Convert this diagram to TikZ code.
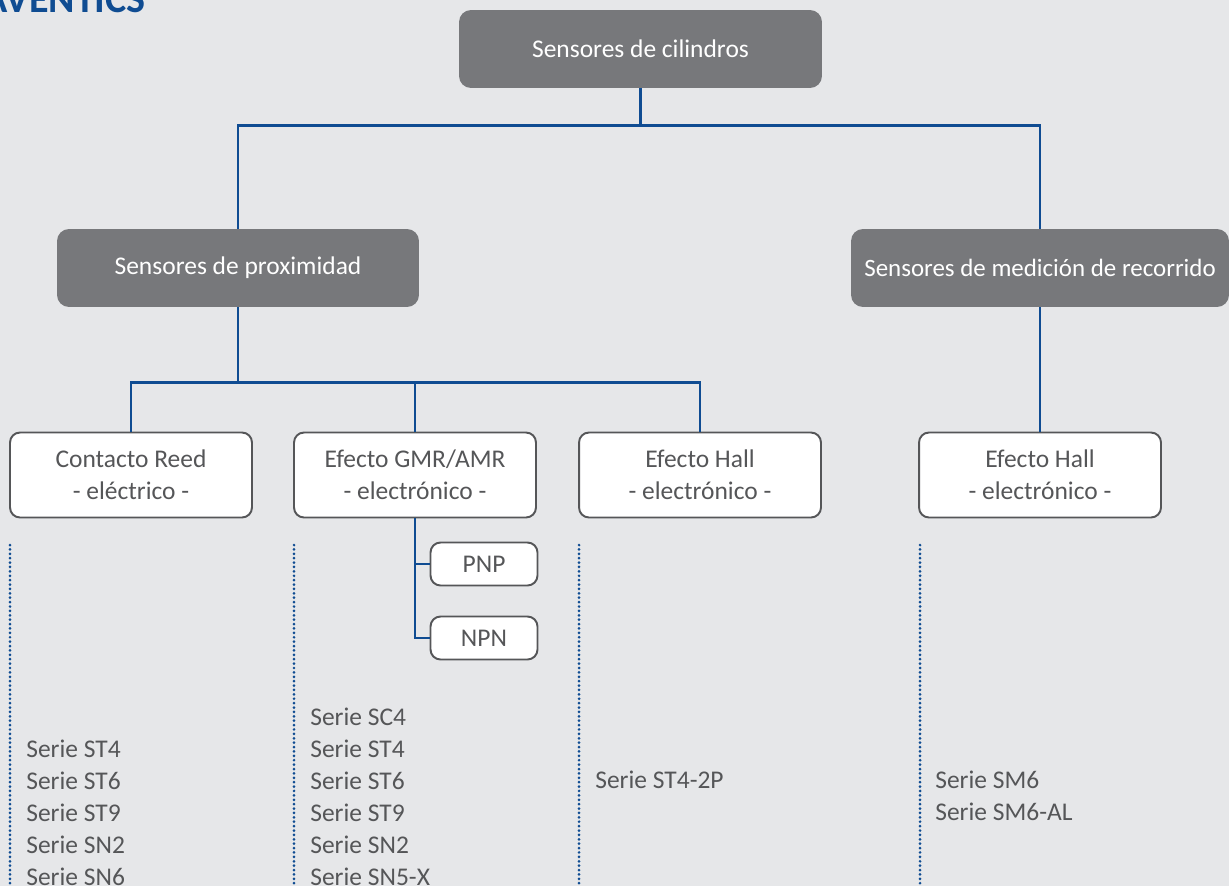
\documentclass[tikz,border=0pt]{standalone}
\usepackage{fontspec}
\setmainfont{Carlito}
\usepackage{xcolor}
\definecolor{bgrey}{HTML}{E6E7E9}
\definecolor{dgrey}{HTML}{77787B}
\definecolor{tgrey}{HTML}{555658}
\definecolor{lblue}{HTML}{0F4C92}
\tikzset{dark/.style={fill=dgrey,text=white,rounded corners=0.24cm,
   minimum height=1.56cm,inner sep=0pt},
 light/.style={draw=tgrey,line width=1.1pt,fill=white,text=tgrey,
   rounded corners=0.2cm,align=center,inner sep=0pt},
 link/.style={draw=lblue,line width=1.6pt},
 dots/.style={draw=lblue,line width=1.7pt,line cap=round,dash pattern=on 0pt off 2.5pt},
 series/.style={text=tgrey,align=left,anchor=north west,inner sep=0pt},
 }

\begin{document}
\begin{tikzpicture}[x=0.02cm,y=-0.02cm,font=\fontsize{14.5}{18.2}\selectfont]
        \fill[bgrey] (0,0) rectangle (1229,886);
        \clip (0,0) rectangle (1229,886);
        \node[anchor=base east,text=lblue,inner sep=0pt,font=\fontsize{22.8}{26}\selectfont\bfseries] (brand) at (146,12) {AVENTICS};

        % levels 1 and 2
        \node[dark,minimum width=7.26cm] (root) at (640.5,49) {Sensores de cilindros};
        \node[dark,minimum width=7.24cm] (prox) at (238,268) {Sensores de proximidad};
        \node[dark,minimum width=7.56cm,font=\fontsize{14.2}{18}\selectfont] (medic) at (1040,268) {Sensores de medición de recorrido};
        \draw[link] (root.south) -- ++(0,37) -| (prox.north);
        \draw[link] (root.south) -- ++(0,37) -| (medic.north);

        % level 3
        \node[light,minimum width=4.84cm,minimum height=1.7cm] (reed) at (131,475) {Contacto Reed\\- eléctrico -};
        \node[light,minimum width=4.84cm,minimum height=1.7cm] (gmr) at (415,475) {Efecto GMR/AMR\\- electrónico -};
        \node[light,minimum width=4.84cm,minimum height=1.7cm] (hall) at (700,475) {Efecto Hall\\- electrónico -};
        \node[light,minimum width=4.84cm,minimum height=1.7cm] (hallb) at (1040,475) {Efecto Hall\\- electrónico -};
        \draw[link] (prox.south) -- ++(0,75) -| (reed.north);
        \draw[link] (prox.south) -- ++(0,75) -| (gmr.north);
        \draw[link] (prox.south) -- ++(0,75) -| (hall.north);
        \draw[link] (medic.south) -- (hallb.north);

        \node[light,minimum width=2.14cm,minimum height=0.86cm] (pnp) at (484,564) {PNP};
        \node[light,minimum width=2.14cm,minimum height=0.86cm] (npn) at (484,638) {NPN};
        \draw[link] (gmr.south) |- (pnp.west);
        \draw[link] (gmr.south) |- (npn.west);

        % series
        \draw[dots] (10,545) -- (10,886);
        \draw[dots] (294,545) -- (294,886);
        \draw[dots] (579,545) -- (579,886);
        \draw[dots] (920,545) -- (920,886);
        \node[series] (reedlist) at (26,740) {Serie ST4\\Serie ST6\\Serie ST9\\Serie SN2\\Serie SN6};
        \node[series] (gmrlist) at (310,708) {Serie SC4\\Serie ST4\\Serie ST6\\Serie ST9\\Serie SN2\\Serie SN5-X};
        \node[series] (halllist) at (595,771) {Serie ST4-2P};
        \node[series] (hallblist) at (935,771) {Serie SM6\\Serie SM6-AL};
    \end{tikzpicture}
\end{document}
